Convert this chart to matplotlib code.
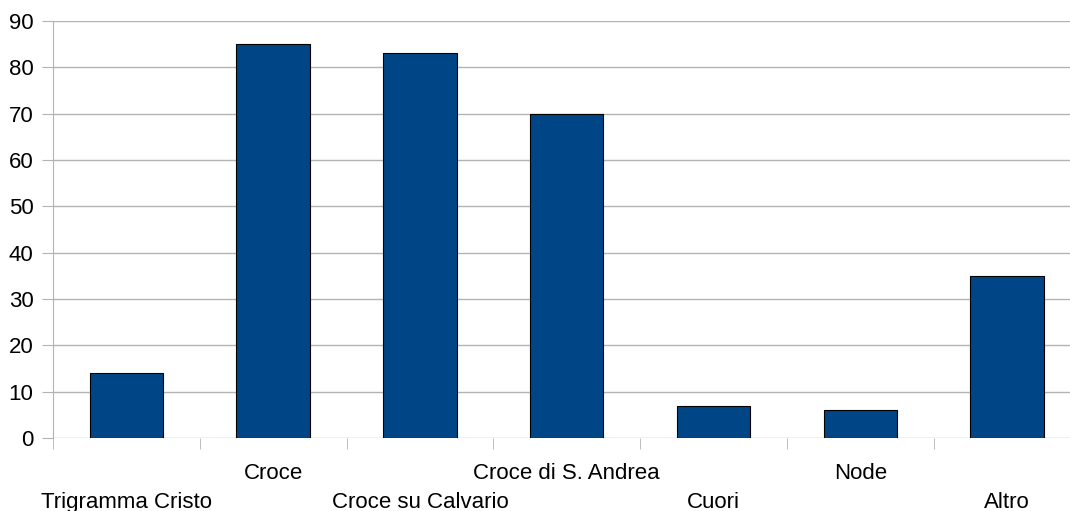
import matplotlib.pyplot as plt
from matplotlib.ticker import FixedLocator, NullFormatter
import numpy as np

# Categorie e valori
categorie = ['Trigramma Cristo', 'Croce', 'Croce su Calvario', 'Croce di S. Andrea',
             'Cuori', 'Node', 'Altro']
valori = [14, 85, 83, 70, 7, 6, 35]

plt.rcParams['font.family'] = ['Liberation Sans', 'DejaVu Sans']

fig = plt.figure(figsize=(10.7, 5.11), dpi=100)
# l'area del grafico prosegue oltre il bordo destro, come nell'originale
ax = fig.add_axes([0.0495, 0.1429, 0.9604, 0.816])

x = np.arange(len(categorie))
ax.bar(x, valori, width=0.5, color='#004586', edgecolor='black', linewidth=0.8, zorder=3)

ax.set_xlim(-0.5, len(categorie) - 0.5)
ax.set_ylim(0, 90)
ax.set_yticks(np.arange(0, 91, 10))
ax.yaxis.grid(True, color='#b3b3b3', linewidth=1, zorder=0)
ax.tick_params(axis='y', length=8, color='#b3b3b3', labelsize=16, pad=6)

# tacche tra le categorie, etichette sfalsate su due righe
ax.set_xticks([])
ax.xaxis.set_minor_locator(FixedLocator(np.arange(-0.5, len(categorie), 1.0)))
ax.xaxis.set_minor_formatter(NullFormatter())
ax.tick_params(axis='x', which='minor', length=8, color='#b3b3b3')

for i, nome in enumerate(categorie):
    off = -50.5 if i % 2 == 0 else -29.5
    ax.annotate(nome, xy=(i, 0), xycoords=('data', 'axes fraction'),
                xytext=(0, off), textcoords='offset points',
                ha='center', va='baseline', fontsize=16)

for s in ['top', 'right', 'bottom']:
    ax.spines[s].set_visible(False)
ax.spines['left'].set_color('#b3b3b3')

fig.savefig('out.png', dpi=100)
